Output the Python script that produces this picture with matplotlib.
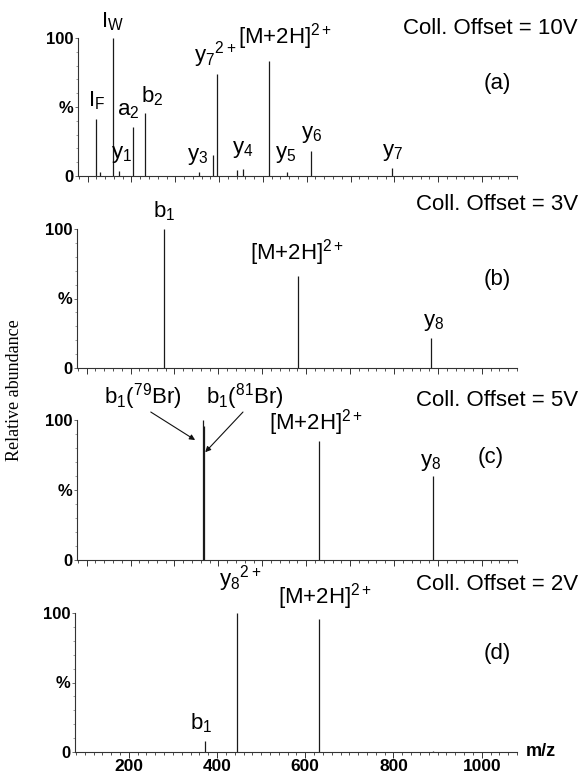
import numpy as np
import matplotlib.pyplot as plt
from matplotlib.ticker import MultipleLocator

plt.rcParams['font.family'] = ['Liberation Sans', 'DejaVu Sans']
plt.rcParams['mathtext.fontset'] = 'custom'
plt.rcParams['mathtext.rm'] = 'Liberation Sans'
plt.rcParams['mathtext.it'] = 'Liberation Sans'

W, H = 582, 774
MZ_MIN, MZ_MAX = 78, 1080

# spectra: m/z and relative abundance (%)
mz_a = [120, 128, 159, 172, 204, 231, 354, 387, 396, 440, 455, 514, 555, 610, 795]
ab_a = [41, 3, 100, 3.5, 35.5, 46, 3, 15, 74, 4, 5, 83, 3, 18, 6]

mz_b = [277, 582, 885]
ab_b = [100, 66, 21.5]

mz_c = [366, 368, 628, 889]
ab_c = [100, 96, 85, 60]

mz_d = [372, 445, 631, 889]
ab_d = [8, 100, 96, 0.5]

offsets = ['Coll. Offset = 10V', 'Coll. Offset = 3V',
           'Coll. Offset = 5V', 'Coll. Offset = 2V']
panel_tags = ['(a)', '(b)', '(c)', '(d)']

# peak labels: (text, m/z centre, bottom of text in %)
labels_a = [(r'I$_\mathrm{W}$', 156, 103.6), (r'I$_\mathrm{F}$', 121, 46.4),
            (r'a$_2$', 192, 39.9), (r'b$_2$', 247, 49.3),
            (r'y$_1$', 178, 8.0), (r'y$_3$', 352, 6.5),
            (r'y$_4$', 455, 11.6), (r'y$_5$', 553, 8.0),
            (r'y$_6$', 612, 22.5), (r'y$_7$', 795, 9.4),
            (r'y$_7$$^{2+}$', 392, 76.8), (r'[M+2H]$^{2+}$', 550, 89.9)]
labels_b = [(r'b$_1$', 277, 104), (r'[M+2H]$^{2+}$', 580, 72),
            (r'y$_8$', 890, 25.2)]
labels_c = [(r'b$_1$($^{79}$Br)', 228, 105.7), (r'b$_1$($^{81}$Br)', 460, 105.7),
            (r'[M+2H]$^{2+}$', 622, 87), (r'y$_8$', 884, 62)]
labels_d = [(r'y$_8$$^{2+}$', 452, 114), (r'[M+2H]$^{2+}$', 645, 100.7),
            (r'b$_1$', 365, 12.2)]

# arrows for the bromine isotope pair in (c): (start, end) in data coords
arrows_c = [((246, 105.7), (347, 85.7)), ((456, 105.7), (370, 77))]

# panel frames in pixels: left, right, y of 100 %, y of 0 %
frames = [(78, 517, 38, 176), (77, 517, 229, 368),
          (77, 517, 420, 560), (75, 517, 613, 752)]

fig = plt.figure(figsize=(W / 100, H / 100), dpi=100)


def px_text(x, y, s, **kw):
    fig.text(x / W, 1 - y / H, s, **kw)


spectra = [(mz_a, ab_a, labels_a), (mz_b, ab_b, labels_b),
           (mz_c, ab_c, labels_c), (mz_d, ab_d, labels_d)]

for i, ((mz, ab, labs), (l, r, t, b)) in enumerate(zip(spectra, frames)):
    ax = fig.add_axes([l / W, 1 - b / H, (r - l) / W, (b - t) / H])
    ax.vlines(mz, 0, ab, color='#1a1a1a', lw=0.9, clip_on=False)
    ax.set_xlim(MZ_MIN, MZ_MAX)
    ax.set_ylim(0, 100)
    for s in ['top', 'right']:
        ax.spines[s].set_visible(False)
    for s in ['left', 'bottom']:
        ax.spines[s].set_linewidth(0.8)
        ax.spines[s].set_color('#333333')

    ax.xaxis.set_major_locator(MultipleLocator(100))
    ax.xaxis.set_minor_locator(MultipleLocator(20))
    ax.tick_params(axis='x', which='major', length=4, width=0.7, color='#333333')
    ax.tick_params(axis='x', which='minor', length=2, width=0.6, color='#333333')
    if i == 3:
        ax.set_xticks([200, 400, 600, 800, 1000])
        ax.xaxis.set_minor_locator(MultipleLocator(20))
        ax.set_xticklabels(['200', '400', '600', '800', '1000'],
                           fontsize=12.5, fontweight='bold')
        ax.tick_params(axis='x', pad=1)
    else:
        ax.set_xticklabels([])

    ax.set_yticks([0, 50, 100])
    ax.set_yticklabels(['0', '%', '100'], fontsize=12, fontweight='bold')
    ax.yaxis.set_minor_locator(MultipleLocator(10))
    ax.tick_params(axis='y', which='major', length=2, width=0.6, pad=1,
                   color='#555555')
    ax.tick_params(axis='y', which='minor', length=1.5, width=0.5,
                   color='#777777')

    for s, x, y in labs:
        ax.text(x, y, s, ha='center', va='bottom', fontsize=16, clip_on=False)

    if i == 2:
        for (x0, y0), (x1, y1) in arrows_c:
            ax.annotate('', xy=(x1, y1), xytext=(x0, y0),
                        arrowprops=dict(arrowstyle='-|>', color='#111111',
                                        lw=0.8, mutation_scale=8,
                                        shrinkA=0, shrinkB=0),
                        annotation_clip=False)

    if i == 3:
        ax.text(1.02, 0, 'm/z', transform=ax.transAxes, ha='left',
                va='center', fontsize=13, fontweight='bold')

# run conditions and panel tags
offset_y = [29, 205, 401, 585]
tag_pos = [(497, 83), (497, 280), (491, 458), (497, 653)]
for s, y in zip(offsets, offset_y):
    px_text(578, y, s, ha='right', va='center', fontsize=16)
for s, (x, y) in zip(panel_tags, tag_pos):
    px_text(x, y, s, ha='center', va='center', fontsize=16)

px_text(15, 390, 'Relative abundance', rotation=90, ha='center', va='center',
        fontsize=13, family=['Liberation Serif', 'DejaVu Serif'])

fig.savefig('out.png', dpi=100)
